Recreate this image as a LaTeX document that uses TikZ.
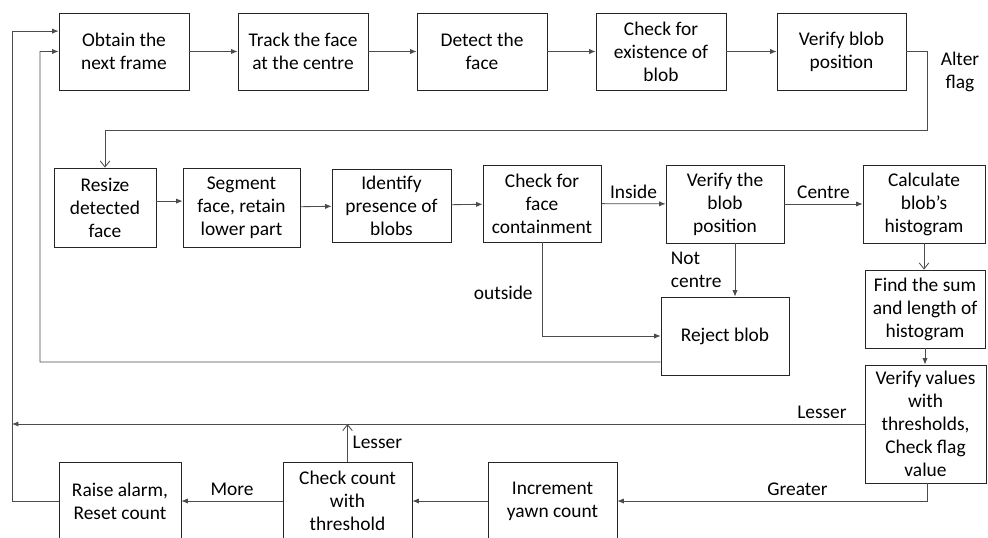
\documentclass[tikz,border=0pt]{standalone}
\usepackage{fontspec}
\setmainfont{Carlito}
\usetikzlibrary{arrows.meta,calc,positioning}
\newlength\px
\setlength\px{0.25mm}
\tikzset{
  stage/.style 2 args = {draw=black!85, line width=0.6pt, align=center,
                         inner sep=1pt, minimum width=#1\px, minimum height=#2\px},
  link/.style         = {line width=0.6pt, draw=black!70,
                         -{Latex[length=1.6mm,width=1.3mm]}},
  openlink/.style     = {line width=0.6pt, draw=black!70,
                         -{Straight Barb[length=1.5mm,width=2.4mm]}},
}

\begin{document}
\begin{tikzpicture}[
    x=0.25mm, y=-0.25mm,
    every node/.style={font=\fontsize{13.8}{16.4}\selectfont},
  ]
  \clip (0,0) rectangle (988,538);

  % =======================================================================
  %  First row: frame to blob check
  % =======================================================================
  \node[stage={130}{77}] (frame)   at (124,51.5)   {Obtain the\\next frame};
  \node[stage={130}{77}] (track)   at (303,51.5)   {Track the face\\at the centre};
  \node[stage={130}{77}] (detect)  at (482,51.5)   {Detect the\\face};
  \node[stage={130}{77}] (exist)   at (661,51.5)   {Check for\\existence of\\blob};
  \node[stage={129}{77}] (blobchk) at (841.5,51.5) {Verify blob\\position};

  \draw[link] (frame) -- (track);
  \draw[link] (track) -- (detect);
  \draw[link] (detect) -- (exist);
  \draw[link] (exist) -- (blobchk);
  \node[align=center] (alter) at (960,72) {Alter\\flag};

  % =======================================================================
  %  Second row: blob analysis
  % =======================================================================
  \node[stage={102}{79}] (resize)   at (105,207.5)  {Resize\\detected\\face};
  \node[stage={117}{79}] (segment)  at (241.5,207.5) {Segment\\face, retain\\lower part};
  \node[stage={119}{73}] (identify) at (391.5,205.5) {Identify\\presence of\\blobs};
  \node[stage={118}{77}] (contain)  at (542,203.5)  {Check for\\face\\containment};
  \node[stage={118}{78}] (position) at (725,204)    {Verify the\\blob\\position};
  \node[stage={122}{78}] (hist)     at (924,204)    {Calculate\\blob’s\\histogram};
  \node[stage={120}{78}] (sum)      at (925,309)    {Find the sum\\and length of\\histogram};
  \node[stage={128}{78}] (reject)   at (725,336)    {Reject blob};
  \node[stage={121}{118}] (thresh)  at (925.5,424)  {Verify values\\with\\thresholds,\\Check flag\\value};

  % alter flag, back down to the second row
  \draw[openlink] (blobchk.east) -- (927,51.5) -- (927,130) -| (resize.north);

  \draw[link] ([yshift=1.6mm]resize.east) -- ([yshift=1.6mm]segment.west);
  \draw[link] (segment) -- (identify);
  \draw[link] (identify) -- (contain);
  \draw[link] (contain) -- node[above] {Inside} (position);
  \draw[link] (position) -- node[above] {Centre} (hist);
  \draw[openlink] (hist.south) -- (hist.south |- sum.north);
  \draw[link] (sum.south) -- (sum.south |- thresh.north);

  % rejected blobs
  \draw[link] (contain.south) |- node[pos=0.27,left=3pt] {outside} (reject.west);
  \draw[link] ([xshift=2.5mm]position.south) --
        node[left=6pt,align=left] {Not\\centre} ([xshift=2.5mm]reject.north);
  \draw[link] ([yshift=-6.5mm]reject.west) -- (40,362) |- (frame.west);

  % =======================================================================
  %  Third row: yawn count
  % =======================================================================
  \node[stage={129}{78}] (incr)  at (552.5,501) {Increment\\yawn count};
  \node[stage={129}{78}] (count) at (347.5,501) {Check count\\with\\threshold};
  \node[stage={122}{78}] (alarm) at (120,501)   {Raise alarm,\\Reset count};

  \draw[link] (thresh.west) -- node[pos=0.05,above] {Lesser} (12,424);
  \draw[link] ([xshift=0.6mm]thresh.south) |- node[pos=0.71,above] {Greater} (incr.east);
  \draw[link] (incr) -- (count);
  \draw[link] (count) -- node[above] {More} (alarm);
  \draw[openlink] (count.north) -- node[right] {Lesser} (count.north |- thresh.west);
  \draw[link] (alarm.west) -- (12,501) |- ([yshift=5.1mm]frame.west);
\end{tikzpicture}
\end{document}
